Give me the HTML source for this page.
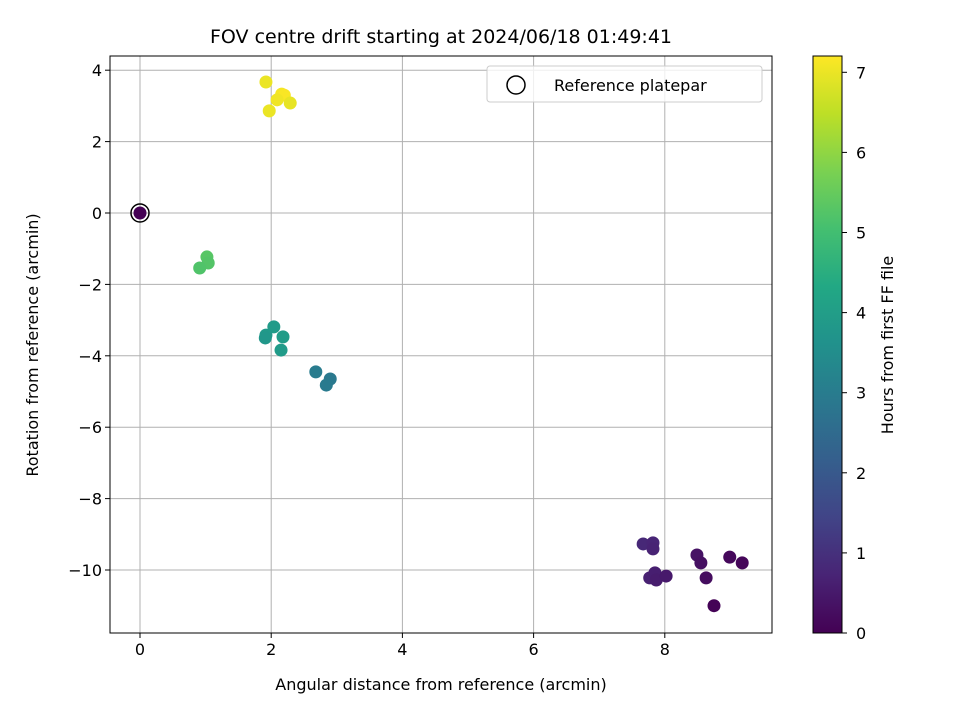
<!DOCTYPE html>
<html><head><meta charset="utf-8"><style>
body{margin:0;background:#fff;font-family:"Liberation Sans","DejaVu Sans",sans-serif}
</style></head><body>
<svg id="c" width="960" height="720" xmlns="http://www.w3.org/2000/svg" font-family="DejaVu Sans, Liberation Sans, sans-serif">
<defs><linearGradient id="vg" x1="0" y1="1" x2="0" y2="0">
<stop offset="0" stop-color="#440154"/><stop offset="0.1" stop-color="#482475"/><stop offset="0.2" stop-color="#414487"/><stop offset="0.3" stop-color="#355f8d"/><stop offset="0.4" stop-color="#2a788e"/><stop offset="0.5" stop-color="#21918c"/><stop offset="0.6" stop-color="#22a884"/><stop offset="0.7" stop-color="#44bf70"/><stop offset="0.8" stop-color="#7ad151"/><stop offset="0.9" stop-color="#bddf26"/><stop offset="1" stop-color="#fde725"/></linearGradient></defs>
<g id="grid"></g><g id="pts"></g><g id="axes"></g>
</svg>
<script>
const xs=[7.67,7.82,7.82,7.77,7.85,7.87,8.02,8.49,8.55,8.63,8.99,9.18,8.75,2.68,2.90,2.84,2.04,1.92,1.91,2.18,2.15,1.02,1.04,0.91,1.92,2.16,2.2,2.09,2.29,1.97,0];
const ys=[-9.27,-9.24,-9.41,-10.22,-10.08,-10.28,-10.17,-9.58,-9.80,-10.22,-9.64,-9.80,-11.0,-4.45,-4.65,-4.82,-3.19,-3.42,-3.5,-3.47,-3.84,-1.23,-1.40,-1.54,3.67,3.33,3.3,3.17,3.08,2.86,0];
const hrs=[0.8,0.75,0.7,0.65,0.6,0.55,0.5,0.35,0.3,0.25,0.15,0.1,0.05,3.0,2.9,2.95,3.9,3.85,3.8,3.95,3.9,5.3,5.25,5.2,7.0,7.1,7.15,7.05,6.95,7.0,0];
const xTicks=[0,2,4,6,8], yTicks=[4,2,0,-2,-4,-6,-8,-10], cTicks=[0,1,2,3,4,5,6,7];
const L=110,R=772,T=56,B=633;
const X=v=>140+v*65.6, Y=v=>213-v*35.7, CY=v=>633-v*80.1;
const vir=[[68,1,84],[72,36,117],[65,68,135],[53,95,141],[42,120,142],[33,145,140],[34,168,132],[68,191,112],[122,209,81],[189,223,38],[253,231,37]];
function col(h){let t=Math.max(0,Math.min(1,h/7.2))*10,i=Math.min(9,Math.floor(t)),f=t-i;const a=vir[i],b=vir[i+1];return `rgb(${a.map((v,k)=>Math.round(v+(b[k]-v)*f)).join(',')})`;}
const NS='http://www.w3.org/2000/svg';
function mk(p,tag,at,txt){const e=document.createElementNS(NS,tag);for(const k in at)e.setAttribute(k,at[k]);if(txt!==undefined)e.textContent=txt;p.appendChild(e);return e;}
const g=document.getElementById('grid'),P=document.getElementById('pts'),A=document.getElementById('axes');
xTicks.forEach(t=>{const e=mk(g,'line',{x1:X(t),x2:X(t),y1:T,y2:B,stroke:'#b0b0b0','stroke-width':1});

mk(A,'line',{x1:X(t),x2:X(t),y1:B,y2:B+5,stroke:'#000'});
const l=mk(A,'text',{x:X(t),y:B+22,'text-anchor':'middle','font-size':16},t);
});
yTicks.forEach(t=>{const e=mk(g,'line',{x1:L,x2:R,y1:Y(t),y2:Y(t),stroke:'#b0b0b0','stroke-width':1});

mk(A,'line',{x1:L-5,x2:L,y1:Y(t),y2:Y(t),stroke:'#000'});
const l=mk(A,'text',{x:L-8,y:Y(t)+6,'text-anchor':'end','font-size':16},(t<0?'\u2212'+(-t):t));
});
xs.forEach((x,i)=>{const c=mk(P,'circle',{cx:X(x),cy:Y(ys[i]),r:6.5,fill:col(hrs[i])});
});
const ref=mk(P,'circle',{cx:X(0),cy:Y(0),r:9,fill:'none',stroke:'#000','stroke-width':1.5});

const fr=mk(A,'rect',{x:L,y:T,width:R-L,height:B-T,fill:'none',stroke:'#000','stroke-width':1});

const ti=mk(A,'text',{x:441,y:43,'text-anchor':'middle','font-size':19},'FOV centre drift starting at 2024/06/18 01:49:41');

const xl=mk(A,'text',{x:441,y:690,'text-anchor':'middle','font-size':16},'Angular distance from reference (arcmin)');

const yl=mk(A,'text',{x:38,y:345,'text-anchor':'middle','font-size':16,transform:'rotate(-90 38 345)'},'Rotation from reference (arcmin)');

const lg=mk(A,'g',{});
mk(lg,'rect',{x:487,y:66,width:275,height:36,rx:3,fill:'#fff','fill-opacity':0.8,stroke:'#ccc'});
mk(lg,'circle',{cx:516,cy:85,r:9,fill:'none',stroke:'#000','stroke-width':1.5});
mk(lg,'text',{x:554,y:91,'font-size':16},'Reference platepar');
const cb=mk(A,'rect',{x:813,y:56,width:29,height:577,fill:'url(#vg)',stroke:'#000','stroke-width':1});

cTicks.forEach(t=>{mk(A,'line',{x1:842,x2:847,y1:CY(t),y2:CY(t),stroke:'#000'});
const l=mk(A,'text',{x:856,y:CY(t)+6,'font-size':16},t);
});
const cl=mk(A,'text',{x:893,y:345,'text-anchor':'middle','font-size':16,transform:'rotate(-90 893 345)'},'Hours from first FF file');

</script>
</body></html>
